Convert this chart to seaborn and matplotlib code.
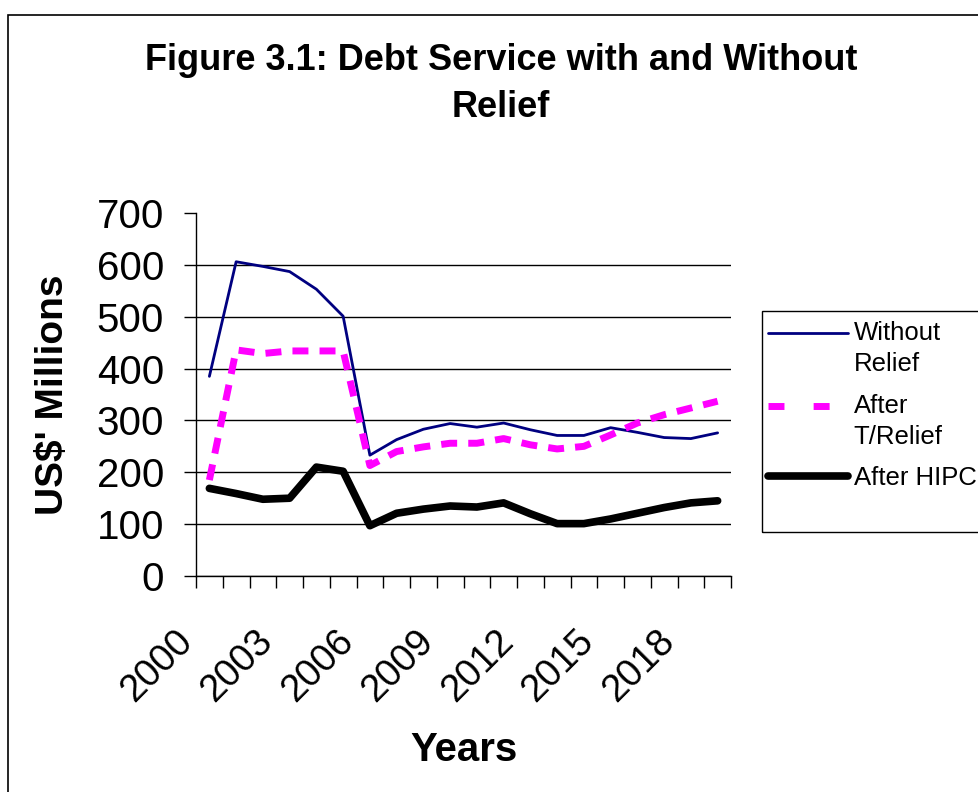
import numpy as np
import pandas as pd
import matplotlib
matplotlib.use("Agg")
import matplotlib.pyplot as plt
import seaborn as sns
from matplotlib.patches import Rectangle
from matplotlib.transforms import ScaledTranslation

# ---------------- data ----------------
years = list(range(2000, 2020))
without_relief = [385, 606, 597, 587, 553, 501, 233, 263, 283, 294,
                  287, 295, 282, 271, 271, 286, 277, 267, 265, 276]
after_t_relief = [185, 436, 429, 434, 434, 434, 213, 240, 249, 256,
                  256, 265, 253, 245, 250, 272, 295, 311, 324, 337]
after_hipc = [169, 159, 148, 150, 210, 202, 97, 121, 129, 135,
              133, 141, 120, 101, 101, 110, 121, 132, 141, 145]
series_labels = ["Without\nRelief", "After\nT/Relief", "After HIPC"]
y_ticks = [0, 100, 200, 300, 400, 500, 600, 700]
x_label_years = [2000, 2003, 2006, 2009, 2012, 2015, 2018]
title_text = "Figure 3.1: Debt Service with and Without\nRelief"
y_title = "US$' Millions"
x_title = "Years"

df = pd.DataFrame({"year": years, "without": without_relief,
                   "trelief": after_t_relief, "hipc": after_hipc})

# ---------------- style ----------------
sns.set_theme(style="white")
plt.rcParams['font.family'] = ['Liberation Sans', 'DejaVu Sans']
plt.rcParams.update({"text.color": "black", "axes.labelcolor": "black",
                     "xtick.color": "black", "ytick.color": "black",
                     "axes.edgecolor": "black"})

W, H = 979, 792
fig = plt.figure(figsize=(W / 100, H / 100), dpi=100)
fig.patch.set_facecolor("white")

ax_l, ax_r, ax_t, ax_b = 196, 731, 213, 576
ax = fig.add_axes([ax_l / W, 1 - ax_b / H, (ax_r - ax_l) / W, (ax_b - ax_t) / H])
ax.set_facecolor("white")

sns.lineplot(data=df, x="year", y="without", ax=ax, color="#000080",
             linewidth=2.0, label=series_labels[0])
sns.lineplot(data=df, x="year", y="trelief", ax=ax, color="#FF00FF",
             linewidth=5.0, label=series_labels[1])
sns.lineplot(data=df, x="year", y="hipc", ax=ax, color="black",
             linewidth=5.5, label=series_labels[2])

lines = ax.get_lines()
lines[1].set_dashes((2.3, 1.6))
lines[1].set_dash_capstyle("butt")
lines[2].set_solid_capstyle("round")
lines[2].set_solid_joinstyle("round")

# axes
ax.set_ylim(0, 700)
ax.set_xlim(years[0] - 0.5, years[-1] + 0.5)
ax.set_yticks(y_ticks)
ax.set_yticklabels([str(v) for v in y_ticks])
ax.yaxis.grid(True, color="black", linewidth=1.0)
ax.xaxis.grid(False)
ax.set_axisbelow(True)

# major x ticks at category boundaries (no labels)
ax.set_xticks([y - 0.5 for y in years] + [years[-1] + 0.5])
ax.set_xticklabels([])
# minor x ticks at category centres carry the year labels
ax.set_xticks(x_label_years, minor=True)
ax.set_xticklabels([str(y) for y in x_label_years], minor=True)

for s in ["top", "right"]:
    ax.spines[s].set_visible(False)
for s in ["left", "bottom"]:
    ax.spines[s].set_color("black")
    ax.spines[s].set_linewidth(1.0)

ax.tick_params(axis="y", which="major", direction="out", length=8.6, width=1,
               color="black", labelsize=29, pad=14.4, left=True,
               labelcolor="black")
ax.tick_params(axis="x", which="major", direction="out", length=8.6, width=1,
               color="black", bottom=True)
ax.tick_params(axis="x", which="minor", length=0, labelsize=27.5, pad=33.8,
               bottom=True, labelcolor="black")

# no gridline at the top value
ax.get_ygridlines()[-1].set_visible(False)

offset = ScaledTranslation(-35 / 100, 0, fig.dpi_scale_trans)
for lbl in ax.get_xticklabels(minor=True):
    lbl.set_rotation(45)
    lbl.set_horizontalalignment("right")
    lbl.set_verticalalignment("top")
    lbl.set_rotation_mode("anchor")
    lbl.set_transform(lbl.get_transform() + offset)

ax.set_xlabel(x_title, fontsize=29, fontweight="bold", color="black")
ax.xaxis.set_label_coords(0.5, -(731 - ax_b) / (ax_b - ax_t))
ax.set_ylabel(y_title, fontsize=28, fontweight="bold", color="black")
ax.yaxis.label.set_verticalalignment("center")
ax.yaxis.set_label_coords((53 - ax_l) / (ax_r - ax_l), 0.5)

# title
fig.text(501 / W, 1 - 43 / H, title_text, ha="center", va="top",
         fontsize=26, fontweight="bold", linespacing=1.45, color="black")

# legend
leg = ax.legend(loc="upper left", bbox_to_anchor=(768 / W, 1 - 321 / H),
                bbox_transform=fig.transFigure, frameon=False, fontsize=18.5,
                handlelength=3.1, handletextpad=0.24, borderpad=0,
                borderaxespad=0, labelspacing=0.68)
for t in leg.get_texts():
    t.set_linespacing(1.38)
    t.set_color("black")
shift = 11.5
for h, lab in zip(leg.legend_handles, series_labels):
    if "\n" in lab:
        h.set_ydata(np.asarray(h.get_ydata()) + shift)
leg.legend_handles[1].set_dashes((2.3, 4.2))
leg.legend_handles[1].set_dash_capstyle("butt")
leg.legend_handles[2].set_solid_capstyle("round")

# legend frame (extends beyond the right edge as in the reference)
fig.add_artist(Rectangle((762 / W, 1 - 532 / H), 0.5, (532 - 311) / H,
                         transform=fig.transFigure, fill=False,
                         edgecolor="black", linewidth=1.0))
# outer chart frame
fig.add_artist(Rectangle((8 / W, -0.2), 1.5, 1.2 - 15 / H,
                         transform=fig.transFigure, fill=False,
                         edgecolor="black", linewidth=1.2))

fig.savefig("out.png", dpi=100, facecolor="white")
